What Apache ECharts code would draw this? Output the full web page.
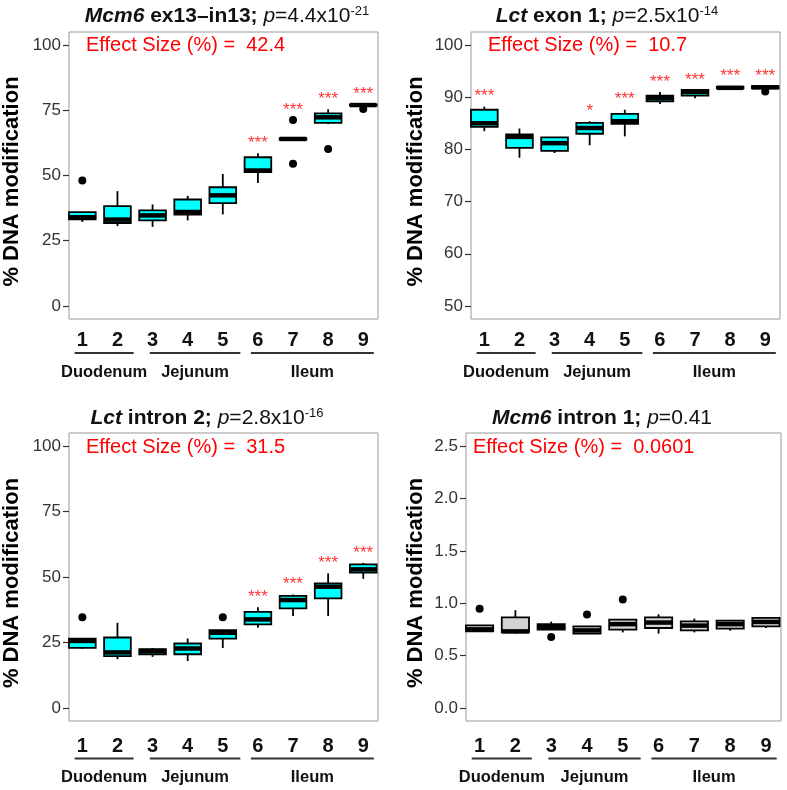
<!DOCTYPE html>
<html>
<head>
<meta charset="utf-8">
<script src="https://cdn.jsdelivr.net/npm/echarts@6/dist/echarts.min.js"></script>
<style>html,body{margin:0;padding:0;background:#fff}#c{width:787px;height:790px}</style>
</head>
<body>
<div id="c"></div>
<script>
// ---------- data ----------
const positions = [1, 2, 3, 4, 5, 6, 7, 8, 9];
const groupNames = ['Duodenum', 'Jejunum', 'Ileum'];
const groupStart = [0.78, 2.92, 5.80];
const groupEnd = [2.46, 5.50, 9.30];

// Panel A: Mcm6 ex13-in13
const aLow  = [32.2, 30.6, 30.3, 32.8, 35.1, 47.1, 63.7, 69.7, 76.8];
const aQ1   = [33.2, 31.8, 32.8, 35.0, 39.4, 51.3, 63.7, 70.2, 76.8];
const aMed  = [34.0, 33.1, 34.7, 36.0, 42.4, 51.9, 64.0, 72.3, 77.0];
const aQ3   = [36.0, 38.3, 36.6, 40.8, 45.5, 57.0, 64.3, 73.8, 77.2];
const aHigh = [36.0, 44.0, 38.9, 42.2, 50.6, 58.5, 64.3, 75.4, 77.3];
const aOut  = [[48.1], [], [], [], [], [], [71.3, 54.5], [60.2], [75.5]];
const aSig  = ['', '', '', '', '', '***', '***', '***', '***'];

// Panel B: Lct exon 1
const bLow  = [83.5, 78.4, 79.3, 80.8, 82.5, 88.7, 89.8, 91.7, 91.7];
const bQ1   = [84.3, 80.3, 79.7, 83.0, 84.9, 89.2, 90.3, 91.7, 91.7];
const bMed  = [85.0, 82.4, 81.2, 84.1, 85.4, 89.8, 91.0, 91.8, 91.9];
const bQ3   = [87.6, 82.9, 82.3, 85.1, 86.8, 90.3, 91.4, 92.0, 92.1];
const bHigh = [88.2, 84.0, 82.4, 85.4, 87.6, 91.0, 91.4, 92.0, 92.1];
const bOut  = [[], [], [], [], [], [], [], [], [91.1]];
const bSig  = ['***', '', '', '*', '***', '***', '***', '***', '***'];

// Panel C: Lct intron 2
const cLow  = [22.6, 18.6, 19.5, 17.9, 22.9, 30.6, 35.1, 35.1, 49.3];
const cQ1   = [22.9, 19.8, 20.5, 20.5, 26.5, 31.9, 38.0, 41.8, 51.7];
const cMed  = [25.6, 21.2, 21.7, 22.7, 28.7, 33.8, 41.2, 46.3, 52.9];
const cQ3   = [26.5, 26.9, 22.4, 24.6, 29.7, 36.7, 42.8, 47.6, 54.8];
const cHigh = [26.5, 32.5, 22.9, 26.5, 29.9, 38.4, 43.3, 51.4, 55.4];
const cOut  = [[34.6], [], [], [], [34.6], [], [], [], []];
const cSig  = ['', '', '', '', '', '***', '***', '***', '***'];

// Panel D: Mcm6 intron 1
const dLow  = [0.725, 0.709, 0.747, 0.709, 0.721, 0.709, 0.721, 0.737, 0.763];
const dQ1   = [0.731, 0.721, 0.747, 0.709, 0.747, 0.763, 0.740, 0.757, 0.779];
const dMed  = [0.750, 0.731, 0.773, 0.740, 0.800, 0.815, 0.786, 0.800, 0.821];
const dQ3   = [0.789, 0.865, 0.800, 0.779, 0.843, 0.865, 0.827, 0.834, 0.860];
const dHigh = [0.789, 0.933, 0.824, 0.779, 0.850, 0.894, 0.853, 0.840, 0.860];
const dOut  = [[0.946], [], [0.677], [0.891], [1.035], [], [], [], []];
const dSig  = ['', '', '', '', '', '', '', '', ''];

const yTicksA = [0, 25, 50, 75, 100];
const yTicksB = [50, 60, 70, 80, 90, 100];
const yTicksC = [0, 25, 50, 75, 100];
const yTicksD = [0, 0.5, 1.0, 1.5, 2.0, 2.5];

const titleGene = ['Mcm6', 'Lct', 'Lct', 'Mcm6'];
const titleRegion = [' ex13\u2013in13; ', ' exon 1; ', ' intron 2; ', ' intron 1; '];
const titleP = ['4.4x10', '2.5x10', '2.8x10', '0.41'];
const titleExp = ['-21', '-14', '-16', ''];
const effectSize = ['42.4', '10.7', '31.5', '0.0601'];

// ---------- layout ----------
const F = '"Liberation Sans", Arial, sans-serif';
const panels = [
  {low: aLow, q1: aQ1, med: aMed, q3: aQ3, high: aHigh, out: aOut, sig: aSig, ticks: yTicksA,
   ymin: -5, ymax: 105, dec: 0, fill: '#00FFFF',
   grid: {left: 69, top: 32, width: 309, height: 287}, nameGap: 46, titleX: 227, titleY: 5, effX: 86, effY: 35,
   numMargin: 11, lineOff: 34, textOff: 53},
  {low: bLow, q1: bQ1, med: bMed, q3: bQ3, high: bHigh, out: bOut, sig: bSig, ticks: yTicksB,
   ymin: 47.5, ymax: 102.5, dec: 0, fill: '#00FFFF',
   grid: {left: 471, top: 32, width: 309, height: 287}, nameGap: 44, titleX: 607, titleY: 5, effX: 488, effY: 35,
   numMargin: 11, lineOff: 34, textOff: 53},
  {low: cLow, q1: cQ1, med: cMed, q3: cQ3, high: cHigh, out: cOut, sig: cSig, ticks: yTicksC,
   ymin: -5, ymax: 105, dec: 0, fill: '#00FFFF',
   grid: {left: 69, top: 433, width: 309, height: 288}, nameGap: 46, titleX: 207, titleY: 407, effX: 86, effY: 437,
   numMargin: 15, lineOff: 37.5, textOff: 56.5},
  {low: dLow, q1: dQ1, med: dMed, q3: dQ3, high: dHigh, out: dOut, sig: dSig, ticks: yTicksD,
   ymin: -0.125, ymax: 2.625, dec: 1, fill: '#D3D3D3',
   grid: {left: 466, top: 433, width: 315, height: 288}, nameGap: 39, titleX: 602, titleY: 408, effX: 473, effY: 437,
   numMargin: 15, lineOff: 37.5, textOff: 56.5}
];

const BOXW = 0.76;
function renderBox(fill) {
  return function (params, api) {
    const x = api.value(0);
    const lo = api.coord([x, api.value(1)]);
    const q1 = api.coord([x, api.value(2)]);
    const md = api.coord([x, api.value(3)]);
    const q3 = api.coord([x, api.value(4)]);
    const hi = api.coord([x, api.value(5)]);
    const w = api.size([BOXW, 0])[0];
    const cx = lo[0];
    return {type: 'group', children: [
      {type: 'line', shape: {x1: cx, y1: hi[1], x2: cx, y2: q3[1]}, style: {stroke: '#000', lineWidth: 1.8}},
      {type: 'line', shape: {x1: cx, y1: q1[1], x2: cx, y2: lo[1]}, style: {stroke: '#000', lineWidth: 1.8}},
      {type: 'rect', shape: {x: cx - w / 2, y: q3[1], width: w, height: Math.max(q1[1] - q3[1], 0.5)},
       style: {fill: fill, stroke: '#000', lineWidth: 1.8}},
      {type: 'line', shape: {x1: cx - w / 2, y1: md[1], x2: cx + w / 2, y2: md[1]}, style: {stroke: '#000', lineWidth: 4.5}}
    ]};
  };
}
function renderGroup(ymin, lineOff, textOff) {
  return function (params, api) {
    const s = api.coord([api.value(0), ymin]);
    const e = api.coord([api.value(1), ymin]);
    return {type: 'group', children: [
      {type: 'line', shape: {x1: s[0], y1: s[1] + lineOff, x2: e[0], y2: s[1] + lineOff},
       style: {stroke: '#333', lineWidth: 2.2}},
      {type: 'text', x: (s[0] + e[0]) / 2, y: s[1] + textOff,
       style: {text: groupNames[params.dataIndex], fill: '#111', font: 'bold 16.5px ' + F, align: 'center', verticalAlign: 'middle'}}
    ]};
  };
}

const TS = 21;
const titleRich = {
  gi: {fontFamily: F, fontSize: TS, fontWeight: 'bold', fontStyle: 'italic', color: '#111'},
  gb: {fontFamily: F, fontSize: TS, fontWeight: 'bold', fontStyle: 'normal', color: '#111'},
  pi: {fontFamily: F, fontSize: TS, fontWeight: 'normal', fontStyle: 'italic', color: '#111'},
  pn: {fontFamily: F, fontSize: TS, fontWeight: 'normal', fontStyle: 'normal', color: '#111'},
  ps: {fontFamily: F, fontSize: 13, fontWeight: 'normal', fontStyle: 'normal', color: '#111', verticalAlign: 'top', padding: [0, 0, 9, 0]}
};

const option = {
  animation: false,
  backgroundColor: '#fff',
  title: [], grid: [], xAxis: [], yAxis: [], series: []
};

panels.forEach(function (p, k) {
  option.grid.push(Object.assign({show: true, borderColor: '#999', borderWidth: 1, backgroundColor: '#fff'}, p.grid));
  option.xAxis.push({
    type: 'value', gridIndex: k, min: 0.62, max: 9.42,
    splitLine: {show: false}, axisLine: {show: false}, axisTick: {show: false},
    axisLabel: {customValues: positions, margin: p.numMargin, fontFamily: F, fontWeight: 'bold', fontSize: 20, color: '#111'}
  });
  option.yAxis.push({
    type: 'value', gridIndex: k, min: p.ymin, max: p.ymax,
    name: '% DNA modification', nameLocation: 'middle', nameGap: p.nameGap,
    nameTextStyle: {fontFamily: F, fontWeight: 'bold', fontSize: 22, color: '#000', padding: [0, 12, 0, 0]},
    splitLine: {show: false}, axisLine: {show: false},
    axisTick: {show: true, customValues: p.ticks, length: 6, lineStyle: {color: '#333', width: 1.2}},
    axisLabel: {customValues: p.ticks, margin: 8, fontFamily: F, fontSize: 17, color: '#333',
      formatter: function (v) { return Number(v).toFixed(p.dec); }}
  });
  option.title.push({
    left: p.titleX, top: p.titleY, textAlign: 'center', padding: 0,
    text: '{gi|' + titleGene[k] + '}{gb|' + titleRegion[k] + '}{pi|p}{pn|=' + titleP[k] + '}' + (titleExp[k] ? '{ps|' + titleExp[k] + '}' : ''),
    textStyle: {fontFamily: F, fontSize: TS, fontWeight: 'normal', color: '#111', rich: titleRich}
  });
  option.title.push({
    left: p.effX, top: p.effY, padding: 0,
    text: 'Effect Size (%) =  ' + effectSize[k],
    textStyle: {fontFamily: F, fontSize: 20, fontWeight: 'normal', color: '#FF0000'}
  });
  const boxData = positions.map(function (x, i) { return [x, p.low[i], p.q1[i], p.med[i], p.q3[i], p.high[i]]; });
  option.series.push({type: 'custom', xAxisIndex: k, yAxisIndex: k, renderItem: renderBox(p.fill), data: boxData, clip: false, z: 2});
  const outData = [];
  positions.forEach(function (x, i) { p.out[i].forEach(function (v) { outData.push([x, v]); }); });
  option.series.push({type: 'scatter', xAxisIndex: k, yAxisIndex: k, data: outData, symbolSize: 8,
    itemStyle: {color: '#000', opacity: 1}, z: 3});
  const sigData = [];
  positions.forEach(function (x, i) {
    if (p.sig[i]) {
      const top = Math.max.apply(null, [p.high[i]].concat(p.out[i]));
      sigData.push({value: [x, top], label: {formatter: p.sig[i]}});
    }
  });
  option.series.push({type: 'scatter', xAxisIndex: k, yAxisIndex: k, data: sigData, symbolSize: 1,
    itemStyle: {color: 'rgba(0,0,0,0)'}, z: 4,
    label: {show: true, position: 'top', distance: 1, color: '#FF0000', fontFamily: F, fontSize: 17}});
  option.series.push({type: 'custom', xAxisIndex: k, yAxisIndex: k, renderItem: renderGroup(p.ymin, p.lineOff, p.textOff),
    data: groupStart.map(function (s, i) { return [s, groupEnd[i]]; }), clip: false, z: 5, silent: true});
});

const chart = echarts.init(document.getElementById('c'), null, {renderer: 'canvas'});
chart.setOption(option);
</script>
</body>
</html>
